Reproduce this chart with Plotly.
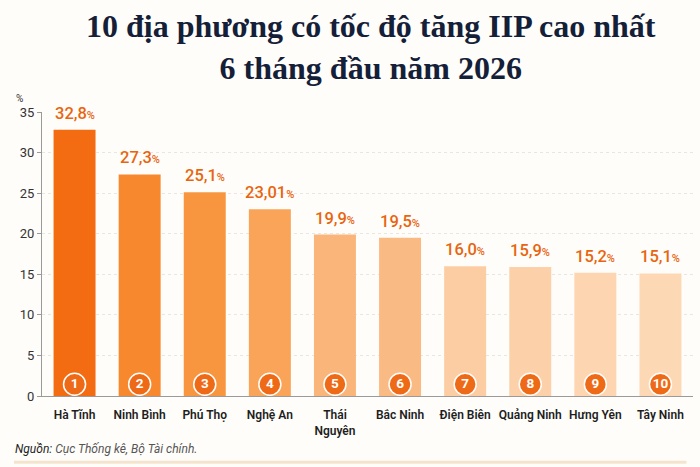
import plotly.graph_objects as go

categories = ["Hà Tĩnh", "Ninh Bình", "Phú Thọ", "Nghệ An", "Thái<br>Nguyên",
              "Bắc Ninh", "Điện Biên", "Quảng Ninh", "Hưng Yên", "Tây Ninh"]
values = [32.8, 27.3, 25.1, 23.01, 19.9, 19.5, 16.0, 15.9, 15.2, 15.1]
value_labels = ["32,8", "27,3", "25,1", "23,01", "19,9", "19,5", "16,0", "15,9", "15,2", "15,1"]
ranks = ["1", "2", "3", "4", "5", "6", "7", "8", "9", "10"]
bar_colors = ["#F46C12", "#F7882E", "#F8963F", "#F9A458", "#FAB57A",
              "#FABA83", "#FCCDA3", "#FCD1AA", "#FDD5B0", "#FDD8B5"]
y_ticks = [0, 5, 10, 15, 20, 25, 30, 35]

BG = "#FFFDFA"
fig = go.Figure()
fig.add_trace(go.Bar(
    x=categories, y=values, marker=dict(color=bar_colors, line=dict(width=0)),
    width=0.645, hoverinfo="skip", showlegend=False,
))
fig.add_trace(go.Scatter(
    x=categories, y=[1.45] * len(categories), mode="markers+text",
    text=["<b>%s</b>" % r for r in ranks], textposition="middle center",
    textfont=dict(family="Roboto, Inter, sans-serif", size=13.5, color="white"),
    marker=dict(size=22, color="#EE6A17", line=dict(color="white", width=1.5)),
    hoverinfo="skip", showlegend=False, cliponaxis=False,
))
for c, v, lab in zip(categories, values, value_labels):
    fig.add_annotation(
        x=c, y=v, yanchor="bottom", yshift=5, showarrow=False,
        text="%s<span style='font-size:11px'>%%</span>" % lab,
        font=dict(family="Roboto, Inter, sans-serif", size=16.5, color="#E8650F", weight=500),
    )

fig.add_annotation(
    xref="paper", yref="paper", x=0.505, y=1, xanchor="center", yanchor="bottom",
    yshift=24, showarrow=False,
    text="<b>10 địa phương có tốc độ tăng IIP cao nhất<br>6 tháng đầu năm 2026</b>",
    font=dict(family="Liberation Serif, serif", size=32, color="#142038"),
)
fig.update_layout(
    width=700, height=467,
    margin=dict(l=42, r=7, t=112, b=71),
    paper_bgcolor=BG, plot_bgcolor=BG,
    xaxis=dict(
        range=[-0.5, 9.5],
        showline=True, linecolor="#9A9A9A", linewidth=1, ticks="",
        tickfont=dict(family="Roboto, Inter, sans-serif", size=12, color="#1E1E1E", weight=600),
        ticklabelstandoff=8, showgrid=False,
    ),
    yaxis=dict(
        range=[0, 35], tickvals=y_ticks, showline=True, linecolor="#9A9A9A", linewidth=1,
        ticks="outside", ticklen=4, tickcolor="#9A9A9A",
        tickfont=dict(family="Roboto, Inter, sans-serif", size=13, color="#333333"),
        showgrid=True, gridcolor="#E9E6E2", griddash="dot", gridwidth=1, zeroline=False,
    ),
)
fig.add_annotation(xref="paper", yref="paper", x=-0.035, y=1.02, xanchor="center",
                   yanchor="bottom", showarrow=False, text="%",
                   font=dict(family="Roboto, sans-serif", size=10, color="#333333"))
fig.add_annotation(xref="paper", yref="paper", x=-0.045, y=-0.185, xanchor="left",
                   yanchor="middle", showarrow=False,
                   text="<i>Nguồn:</i> <i><span style='color:#555555'>Cục Thống kê, Bộ Tài chính.</span></i>",
                   font=dict(family="Roboto, Inter, sans-serif", size=12, color="#1E1E1E"))
fig.add_shape(type="line", xref="paper", yref="paper", x0=-0.043, x1=0.99, y0=-0.233, y1=-0.233,
              line=dict(color="#F4E4CE", width=3))
fig.write_html("out.html")
